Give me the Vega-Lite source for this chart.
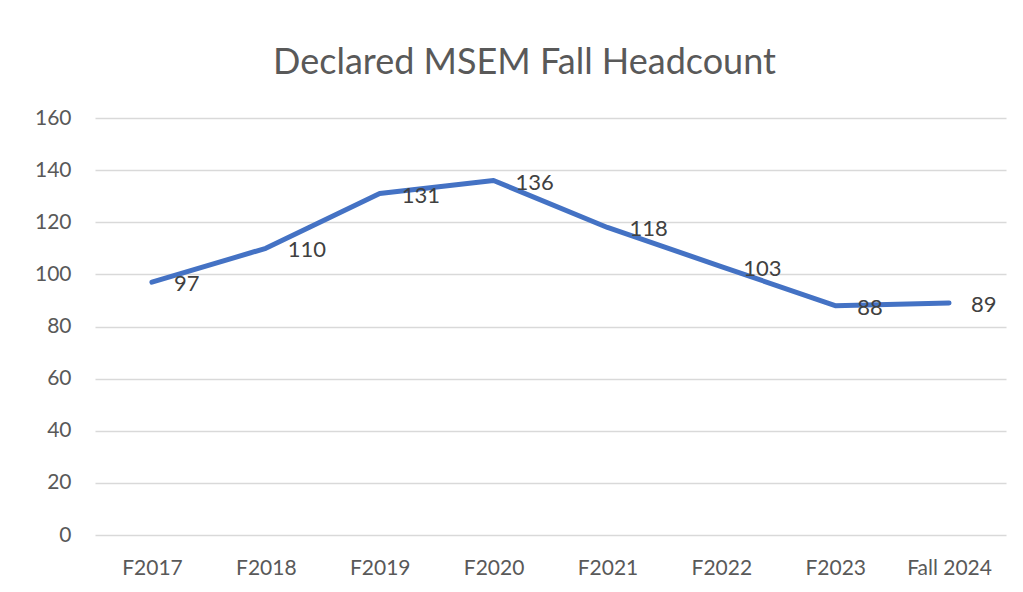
{
  "$schema": "https://vega.github.io/schema/vega-lite/v6.json",
  "autosize": {"type": "none"},
  "width": 911,
  "height": 417,
  "padding": {"left": 95, "top": 118, "right": 17, "bottom": 57},
  "background": "white",
  "config": {"view": {"stroke": null}, "font": "Lato"},
  "title": {"text": "Declared MSEM Fall Headcount", "fontSize": 36, "font": "Lato", "fontWeight": "normal", "color": "#595959", "offset": 25, "dx": -26, "anchor": "middle"},
  "data": {"values": [
    {"term": "F2017", "count": 97},
    {"term": "F2018", "count": 110},
    {"term": "F2019", "count": 131},
    {"term": "F2020", "count": 136},
    {"term": "F2021", "count": 118},
    {"term": "F2022", "count": 103},
    {"term": "F2023", "count": 88},
    {"term": "Fall 2024", "count": 89}
  ]},
  "encoding": {
    "x": {"field": "term", "type": "ordinal", "sort": null, "scale": {"type": "point", "padding": 0.5},
      "axis": {"title": null, "labelAngle": 0, "domain": false, "ticks": false, "labelFontSize": 21, "labelColor": "#595959", "labelPadding": 22, "labelFont": "Lato"}},
    "y": {"field": "count", "type": "quantitative", "scale": {"domain": [0, 160], "nice": false},
      "axis": {"title": null, "values": [0, 20, 40, 60, 80, 100, 120, 140, 160], "domain": false, "ticks": false, "gridColor": "#d9d9d9", "gridWidth": 1.5, "labelFontSize": 21, "labelColor": "#595959", "labelPadding": 24, "labelFont": "Lato"}}
  },
  "layer": [
    {"mark": {"type": "line", "color": "#4472C4", "strokeWidth": 5, "strokeCap": "round", "strokeJoin": "round"}},
    {"mark": {"type": "text", "align": "left", "baseline": "middle", "dx": 22, "dy": 2, "fontSize": 22, "color": "#404040", "font": "Lato"},
      "encoding": {"text": {"field": "count", "type": "quantitative"}}}
  ]
}
